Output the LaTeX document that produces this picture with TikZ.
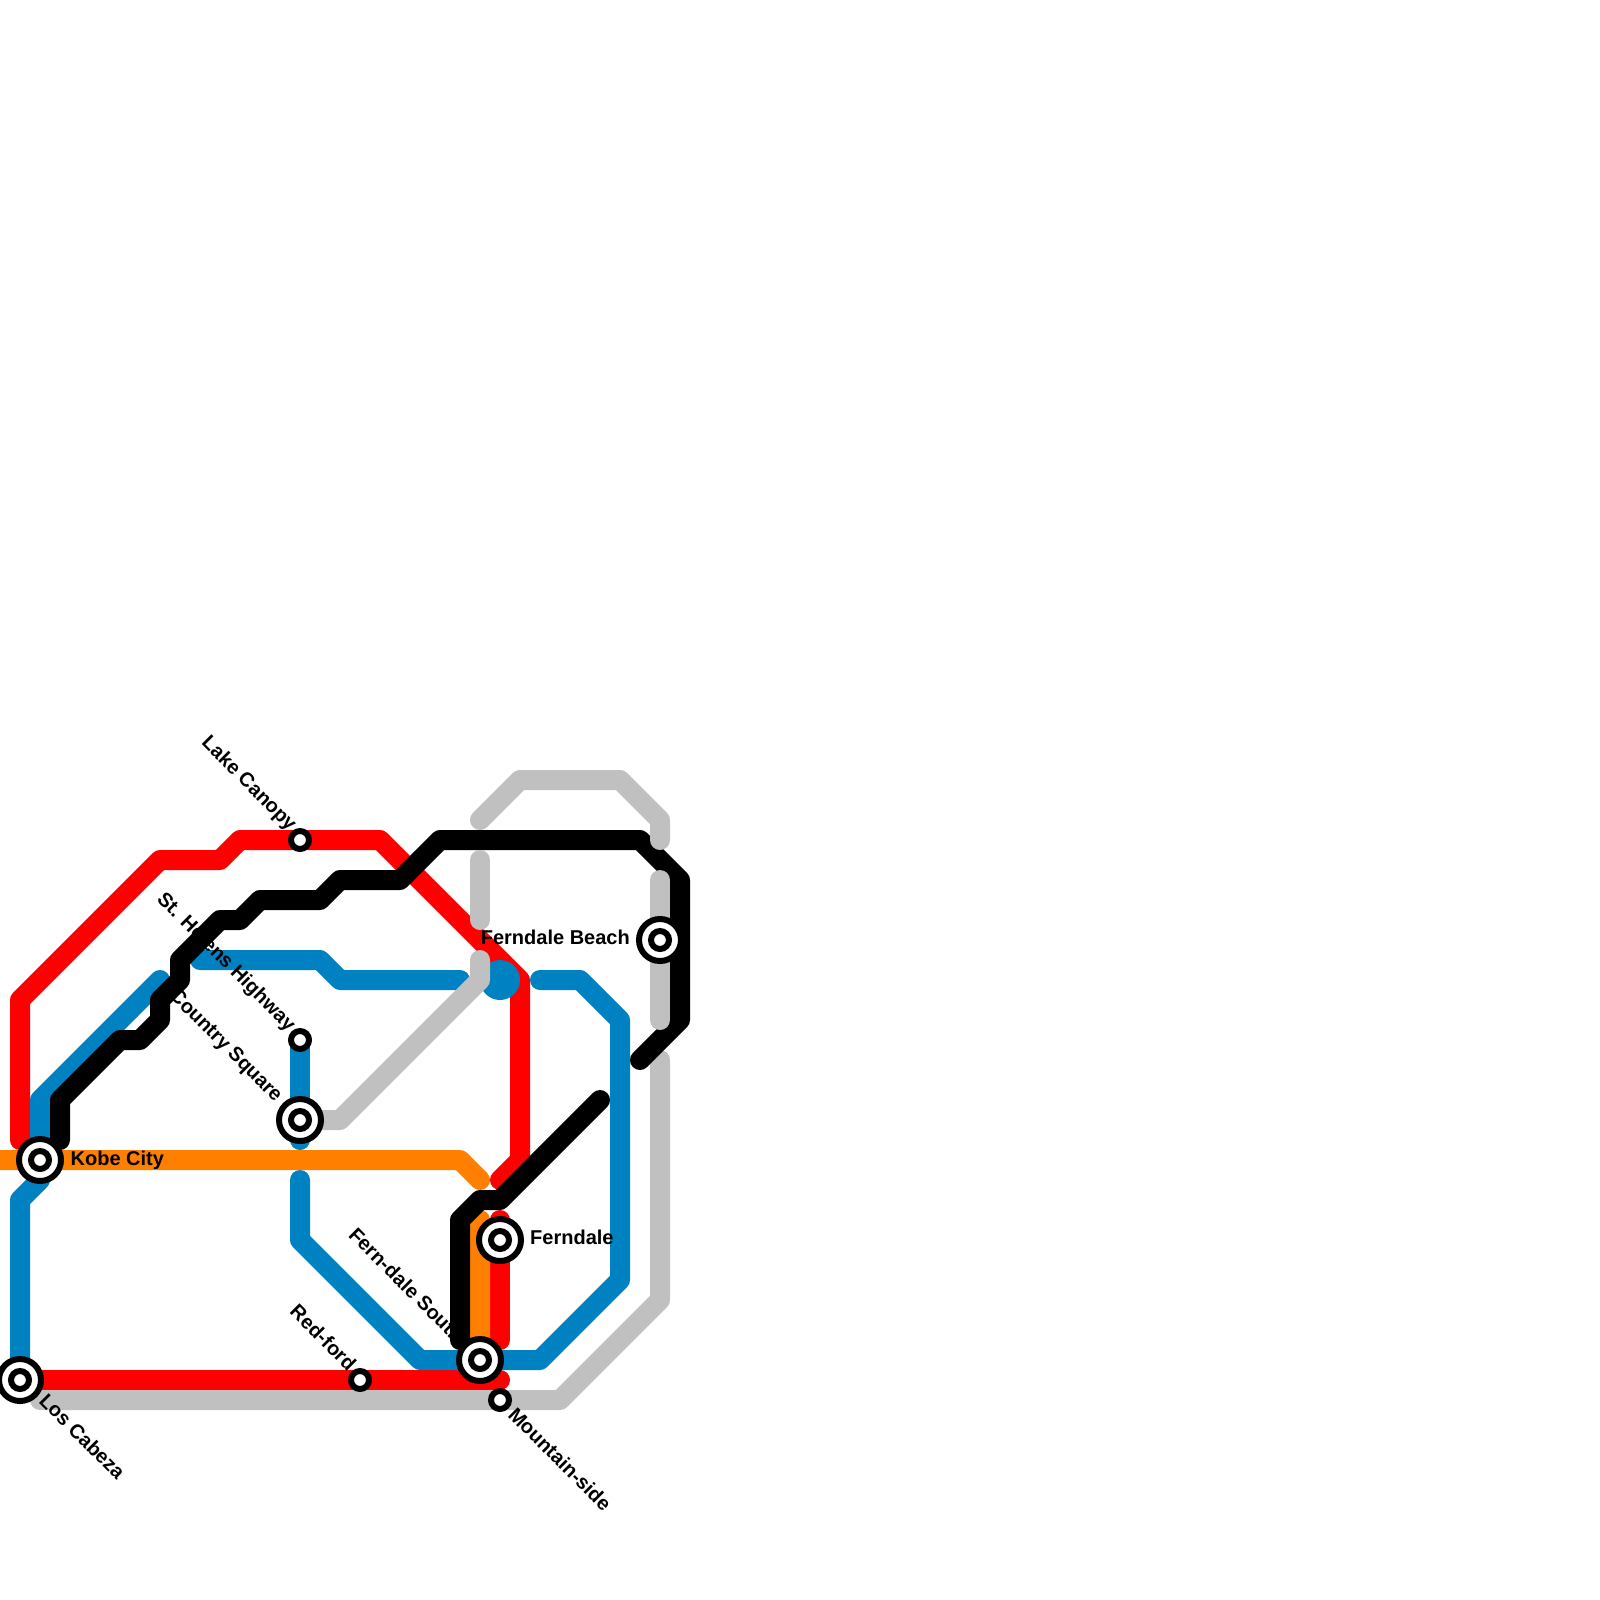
\documentclass[tikz,border=0pt]{standalone}
\usepackage{fontspec}
\setmainfont{Liberation Sans}
\definecolor{lred}{RGB}{255,0,0}
\definecolor{lblue}{RGB}{0,129,194}
\definecolor{lorange}{RGB}{255,128,0}
\definecolor{lgray}{RGB}{192,192,192}
\tikzset{
  metro/.style={line width=20pt,line cap=round,line join=round},
  redline/.style={metro,draw=lred},
  blueline/.style={metro,draw=lblue},
  orangeline/.style={metro,draw=lorange,line cap=butt},
  grayline/.style={metro,draw=lgray},
  blackline/.style={metro,draw=black},
  ringst/.style={circle,draw=black,fill=white,line width=6pt,minimum size=42pt,inner sep=0pt,outer sep=0pt},
  dotst/.style={circle,draw=black,fill=white,line width=6pt,minimum size=18pt,inner sep=0pt,outer sep=0pt},
  lab/.style={inner sep=0pt,text=black,font=\fontsize{20pt}{22pt}\selectfont\bfseries},
  diag/.style={lab,rotate=-45},
}
\begin{document}
\begin{tikzpicture}[x=1pt,y=-1pt]
\useasboundingbox[fill=white] (0,0) rectangle (1600,1600);
% station positions
\coordinate (pkobe) at (40,1160);
\coordinate (plos) at (20,1380);
\coordinate (plake) at (300,840);
\coordinate (phel) at (300,1040);
\coordinate (pcountry) at (300,1120);
\coordinate (pbeach) at (660,940);
\coordinate (pfern) at (500,1240);
\coordinate (psouth) at (480,1360);
\coordinate (predf) at (360,1380);
\coordinate (pmount) at (500,1400);
% red
\draw[redline] (20,1140) -- (20,1000) -- (160,860) -- (220,860) -- (240,840) -- (plake) -- (380,840) -- (520,980) -- (520,1160) -- (500,1180);
\draw[redline] (500,1220) -- (pfern) -- (500,1340);
\draw[redline] (plos) -- (predf) -- (500,1380);
% blue
\draw[blueline] (160,980) -- (40,1100) -- (pkobe) -- (40,1180) -- (20,1200) -- (plos);
\draw[blueline] (200,960) -- (320,960) -- (340,980) -- (460,980);
\draw[blueline] (phel) -- (pcountry) -- (300,1140);
\draw[blueline] (300,1180) -- (300,1240) -- (420,1360) -- (psouth) -- (540,1360) -- (620,1280) -- (620,1020) -- (580,980) -- (540,980);
\fill[lblue] (500,980) circle (20pt);
% orange
\draw[orangeline] (0,1160) -- (pkobe) -- (460,1160) -- (480,1180);
\fill[lorange] (480,1180) circle (10pt);
\draw[orangeline] (460,1240) -- (480,1220) -- (psouth);
% lower gray
\draw[grayline] (40,1400) -- (pmount) -- (560,1400) -- (660,1300) -- (660,1060);
% labels
\node[diag,anchor=base east] (tlake) at (289,832) {Lake Canopy};
\node[diag,anchor=base east] (thel) at (288,1032) {St. Helens Highway};
\node[diag,anchor=base east] (tcountry) at (275,1103) {Country Square};
\node[diag,anchor=base east] (tsouth) at (455.5,1344) {Fern-dale South};
\node[diag,anchor=base east] (tredf) at (348,1372) {Red-ford};
\node[diag,anchor=base west] (tlos) at (38,1402) {Los Cabeza};
\node[diag,anchor=base west] (tmount) at (507,1416) {Mountain-side};
\node[lab,anchor=base west] (tkobe) at (70.5,1165) {Kobe City};
\node[lab,anchor=base west] (tfern) at (530,1244) {Ferndale};
\node[lab,anchor=base east] (tbeach) at (630,944) {Ferndale Beach};
% black
\draw[blackline] (60,1140) -- (60,1100) -- (120,1040) -- (140,1040) -- (160,1020) -- (160,1000) -- (180,980) -- (180,960) -- (220,920) -- (240,920) -- (260,900) -- (320,900) -- (340,880) -- (400,880) -- (440,840) -- (640,840) -- (680,880) -- (680,1020) -- (640,1060);
\draw[blackline] (600,1100) -- (500,1200) -- (480,1200) -- (460,1220) -- (460,1340);
% upper gray
\draw[grayline] (480,820) -- (520,780) -- (620,780) -- (660,820) -- (660,840);
\draw[grayline] (480,860) -- (480,920);
\draw[grayline] (660,880) -- (pbeach) -- (660,1020);
\draw[grayline] (480,960) -- (480,980) -- (340,1120) -- (pcountry);
% stations
\node[ringst] (kobe) at (pkobe) {};
\node[dotst] (kobec) at (pkobe) {};
\node[ringst] (los) at (plos) {};
\node[dotst] (losc) at (plos) {};
\node[dotst] (lake) at (plake) {};
\node[dotst] (hel) at (phel) {};
\node[ringst] (country) at (pcountry) {};
\node[dotst] (countryc) at (pcountry) {};
\node[ringst] (beach) at (pbeach) {};
\node[dotst] (beachc) at (pbeach) {};
\node[ringst] (fern) at (pfern) {};
\node[dotst] (fernc) at (pfern) {};
\node[ringst] (south) at (psouth) {};
\node[dotst] (southc) at (psouth) {};
\node[dotst] (redf) at (predf) {};
\node[dotst] (mount) at (pmount) {};
\end{tikzpicture}
\end{document}
